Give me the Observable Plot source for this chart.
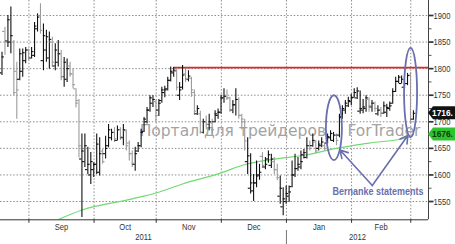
<!DOCTYPE html>
<html><head><meta charset="utf-8">
<script src="https://cdn.jsdelivr.net/npm/d3@7"></script>
<script src="https://cdn.jsdelivr.net/npm/@observablehq/plot@0.6"></script>
<style>html,body{margin:0;padding:0;background:#fff;overflow:hidden}</style>
</head><body><div id="chart"></div>
<script>
// ---- data ----
const dates = [
"2011-08-18","2011-08-19","2011-08-22","2011-08-23","2011-08-24","2011-08-25","2011-08-26","2011-08-29","2011-08-30","2011-08-31",
"2011-09-01","2011-09-02","2011-09-05","2011-09-06","2011-09-07","2011-09-08","2011-09-09","2011-09-12","2011-09-13","2011-09-14",
"2011-09-15","2011-09-16","2011-09-19","2011-09-20","2011-09-21","2011-09-22","2011-09-23","2011-09-26","2011-09-27","2011-09-28",
"2011-09-29","2011-09-30","2011-10-03","2011-10-04","2011-10-05","2011-10-06","2011-10-07","2011-10-10","2011-10-11","2011-10-12",
"2011-10-13","2011-10-14","2011-10-17","2011-10-18","2011-10-19","2011-10-20","2011-10-21","2011-10-24","2011-10-25","2011-10-26",
"2011-10-27","2011-10-28","2011-10-31","2011-11-01","2011-11-02","2011-11-03","2011-11-04","2011-11-07","2011-11-08","2011-11-09",
"2011-11-10","2011-11-11","2011-11-14","2011-11-15","2011-11-16","2011-11-17","2011-11-18","2011-11-21","2011-11-22","2011-11-23",
"2011-11-24","2011-11-25","2011-11-28","2011-11-29","2011-11-30","2011-12-01","2011-12-02","2011-12-05","2011-12-06","2011-12-07",
"2011-12-08","2011-12-09","2011-12-12","2011-12-13","2011-12-14","2011-12-15","2011-12-16","2011-12-19","2011-12-20","2011-12-21",
"2011-12-22","2011-12-23","2011-12-26","2011-12-27","2011-12-28","2011-12-29","2011-12-30","2012-01-02","2012-01-03","2012-01-04",
"2012-01-05","2012-01-06","2012-01-09","2012-01-10","2012-01-11","2012-01-12","2012-01-13","2012-01-16","2012-01-17","2012-01-18",
"2012-01-19","2012-01-20","2012-01-23","2012-01-24","2012-01-25","2012-01-26","2012-01-27","2012-01-30","2012-01-31","2012-02-01",
"2012-02-02","2012-02-03","2012-02-06","2012-02-07","2012-02-08","2012-02-09","2012-02-10","2012-02-13","2012-02-14","2012-02-15",
"2012-02-16","2012-02-17","2012-02-21","2012-02-22","2012-02-23","2012-02-24","2012-02-27","2012-02-28","2012-02-29","2012-03-01"];
const open = [
1792,1870,1852,1850,1850,1795,1780,1795,1815,1835, 1820,1825,1875,1900,1815,1835,1820,1850,1805,1812,
1828,1785,1780,1805,1790,1762,1740,1630,1625,1610, 1600,1610,1620,1605,1645,1640,1655,1670,1680,1665,
1685,1670,1683,1660,1640,1620,1645,1655,1682,1700, 1722,1735,1738,1722,1740,1755,1762,1778,1792,1795,
1750,1765,1790,1780,1782,1755,1715,1715,1680,1700, 1695,1698,1700,1712,1718,1745,1748,1745,1722,1732,
1742,1712,1700,1625,1575,1570,1585,1600,1635,1615, 1630,1618,1625,1610,1560,1540,1550,1560,1578,1600,
1612,1615,1638,1633,1655,1655,1662,1650,1655,1655, 1660,1670,1665,1675,1675,1708,1722,1730,1738,1746,
1745,1720,1722,1725,1742,1728,1735,1715,1722,1716, 1718,1725,1735,1757,1776,1772,1765,1772,1788,1705];
const high = [
1831,1878,1900,1916,1853,1812,1837,1837,1840,1837, 1840,1887,1903,1922,1884,1872,1869,1859,1847,1853,
1834,1821,1818,1812,1800,1762,1742,1677,1677,1652, 1642,1623,1677,1670,1648,1673,1695,1686,1689,1692,
1689,1695,1685,1664,1645,1652,1661,1686,1708,1727, 1749,1749,1740,1742,1765,1767,1784,1803,1802,1800,
1774,1806,1799,1796,1784,1760,1730,1720,1705,1711, 1714,1705,1721,1724,1750,1762,1760,1746,1740,1762,
1745,1714,1705,1670,1640,1601,1626,1620,1642,1633, 1645,1639,1633,1620,1598,1576,1579,1579,1626,1639,
1633,1645,1648,1670,1664,1677,1665,1664,1670,1660, 1677,1683,1680,1677,1714,1730,1740,1746,1752,1762,
1764,1758,1742,1749,1745,1740,1737,1730,1727,1737, 1733,1737,1762,1784,1787,1786,1777,1791,1793,1721];
const low = [
1787,1825,1840,1828,1749,1705,1777,1784,1809,1815, 1818,1821,1869,1865,1796,1812,1799,1803,1796,1803,
1777,1765,1774,1784,1762,1726,1632,1520,1614,1601, 1582,1595,1601,1598,1620,1630,1651,1664,1661,1664,
1665,1655,1645,1626,1614,1607,1642,1651,1680,1696, 1718,1727,1699,1710,1735,1745,1758,1775,1784,1758,
1740,1760,1774,1775,1746,1712,1712,1677,1677,1685, 1683,1677,1698,1705,1714,1735,1740,1718,1715,1711,
1705,1685,1645,1601,1564,1550,1576,1590,1612,1610, 1622,1612,1601,1589,1545,1523,1545,1548,1576,1595,
1607,1610,1630,1630,1645,1652,1640,1645,1651,1645, 1658,1664,1661,1655,1670,1705,1714,1727,1730,1745,
1742,1714,1715,1718,1718,1718,1718,1711,1708,1714, 1708,1720,1733,1755,1772,1771,1762,1768,1695,1703];
const close = [
1822,1850,1892,1862,1755,1760,1828,1830,1835,1820, 1832,1880,1897,1872,1862,1860,1855,1812,1835,1828,
1785,1812,1800,1790,1770,1735,1655,1645,1655,1620, 1625,1620,1658,1640,1625,1650,1685,1680,1668,1685,
1672,1685,1655,1640,1622,1640,1655,1680,1705,1722, 1745,1742,1712,1735,1760,1760,1778,1795,1797,1765,
1760,1788,1780,1786,1760,1720,1725,1680,1700,1695, 1700,1685,1715,1718,1745,1748,1745,1722,1732,1742,
1712,1705,1664,1636,1585,1585,1598,1605,1618,1620, 1638,1630,1610,1595,1575,1555,1565,1568,1600,1612,
1620,1625,1642,1655,1650,1665,1645,1658,1662,1650, 1672,1678,1675,1665,1710,1725,1735,1740,1745,1755,
1758,1725,1728,1745,1730,1735,1725,1722,1716,1730, 1727,1730,1757,1776,1784,1780,1772,1787,1700,1716];
// moving average read at a few bar positions (bar index, value)
const maIndex = [19, 27, 44, 52, 61, 73, 83, 90, 95, 103, 112, 124, 137, 139];
const maValue = [1516,1534,1555,1566,1583,1602,1621,1628,1632,1638,1649,1660,1670,1676];
const yTicks = [1550,1600,1650,1700,1750,1800,1850,1900];
const yMinorTicks = [1575,1625,1675,1725,1775,1825,1875];
const monthNames = ["Sep","Oct","Nov","Dec","Jan","Feb"];
const yearNames = ["2011","2012"];
const lastPrice = 1716;
const maLast = 1676;
const resistance = 1802;
const resistanceFromBar = 58;
const watermark = ["Портал для трейдеров", "ForTrader"];
const noteText = "Bernanke statements";

// ---- layout ----
const xDomain = [-0.507, 144.09];
const yDomain = [1515.6, 1928.2];
const sans = "'Liberation Sans', Arial, sans-serif";

const bars = dates.map((d, i) => ({i, date: d, open: open[i], high: high[i], low: low[i], close: close[i]}));
const ma = maIndex.map((i, k) => ({i, v: maValue[k]}));
const colorOf = d => d.close < d.open ? "#9b9b9b" : "#111";

const bounds = [];
for (let i = 1; i < dates.length; i++)
  if (dates[i].slice(0, 7) !== dates[i - 1].slice(0, 7)) bounds.push({pos: i - 0.9, ym: dates[i].slice(0, 7)});
const months = monthNames.map((name, k) => ({x: (bounds[k].pos + bounds[k + 1].pos) / 2, name}));
const janPos = bounds.find(b => b.ym.endsWith("-01")).pos;
const years = [
  {x: (xDomain[0] + janPos) / 2, name: yearNames[0]},
  {x: (janPos + xDomain[1]) / 2, name: yearNames[1]}
];

const annot = {
  wm1: {x: 46.5, y: 1681.7}, wm2: {x: 116.7, y: 1681.7},
  arrowFrom: {x: 125.1, y: 1580},
  arrowTo: [{x: 114.2, y: 1646.9}, {x: 137.1, y: 1674.2}],
  note: {x: 127, y: 1567.5},
  ellipses: [{x: 112.3, y: 1688, rx: 2.7, ry: 61}, {x: 138.2, y: 1754, rx: 2.2, ry: 84}]
};
const blue = "#6a6fae";

const plot = Plot.plot({
  width: 455, height: 244,
  marginLeft: 0, marginRight: 27, marginTop: 0, marginBottom: 24.7,
  x: {domain: xDomain, axis: null, label: null},
  y: {domain: yDomain, axis: null, label: null},
  color: {type: "identity"},
  style: {background: "#fff", fontFamily: sans, fontSize: "9.5px", color: "#222", overflow: "visible"},
  marks: [
    Plot.gridY(yTicks, {stroke: "#8c8c8c", strokeOpacity: 1, strokeDasharray: "1.5,1.8"}),
    Plot.gridX(bounds.map(b => b.pos), {stroke: "#8c8c8c", strokeOpacity: 1, strokeDasharray: "1.5,1.8"}),
    Plot.text([watermark[0]], {x: annot.wm1.x, y: annot.wm1.y, text: d => d, textAnchor: "start",
      fontFamily: "DejaVu Sans", fontSize: 15.5, fill: "#a3a3a3"}),
    Plot.text([watermark[1]], {x: annot.wm2.x, y: annot.wm2.y, text: d => d, textAnchor: "start",
      fontFamily: "DejaVu Sans", fontSize: 15.5, fill: "#a3a3a3"}),
    Plot.line(ma, {x: "i", y: "v", stroke: "#72da72", strokeWidth: 1.2, curve: "monotone-x", clip: true}),
    Plot.ruleY([resistance], {x1: resistanceFromBar, x2: xDomain[1], stroke: "#d62b2b", strokeWidth: 1.8}),
    Plot.ruleX(bars, {x: "i", y1: "low", y2: "high", stroke: colorOf, strokeWidth: 1.1}),
    Plot.ruleY(bars, {y: "open", x1: d => d.i - 0.8, x2: "i", stroke: colorOf, strokeWidth: 1.1}),
    Plot.ruleY(bars, {y: "close", x1: "i", x2: d => d.i + 0.8, stroke: colorOf, strokeWidth: 1.1}),
    Plot.ruleY([yDomain[0]], {stroke: "#333"}),
    Plot.ruleX([xDomain[1]], {stroke: "#444"}),
    Plot.axisY(yTicks, {anchor: "right", label: null, tickSize: 4.5, tickPadding: 0.5, strokeWidth: 1.7,
      stroke: "#333", fill: "#333", tickFormat: d => String(d)}),
    Plot.axisY(yMinorTicks, {anchor: "right", label: null, tickSize: 2.5, stroke: "#555", tickFormat: () => ""}),
    Plot.axisX(bounds.map(b => b.pos), {anchor: "bottom", label: null, tickSize: 3.5, stroke: "#333", tickFormat: () => ""}),
    Plot.text(months, {x: "x", text: "name", frameAnchor: "bottom", dy: 3, lineAnchor: "top", fill: "#333"}),
    Plot.text(years, {x: "x", text: "name", frameAnchor: "bottom", dy: 13, lineAnchor: "top", fill: "#333"}),
    Plot.ruleX([janPos], {insetTop: 230, insetBottom: -24.7, stroke: "#777"}),
    Plot.arrow(annot.arrowTo, {x1: annot.arrowFrom.x, y1: annot.arrowFrom.y, x2: "x", y2: "y",
      stroke: blue, strokeWidth: 1.6, headLength: 8, bend: 0}),
    Plot.text([noteText], {x: annot.note.x, y: annot.note.y, text: d => d, fontWeight: "bold",
      fontSize: 10, fill: blue})
  ]
});

const sx = plot.scale("x"), sy = plot.scale("y");
const svg = d3.select(plot);
for (const e of annot.ellipses) {
  const cx = sx.apply(e.x), cy = sy.apply(e.y);
  svg.append("ellipse").attr("cx", cx).attr("cy", cy)
    .attr("rx", sx.apply(e.x + e.rx) - cx).attr("ry", cy - sy.apply(e.y + e.ry))
    .attr("fill", "none").attr("stroke", blue).attr("stroke-width", 1.8);
}
const axisX = sx.apply(xDomain[1]);
const tagTexts = [];
function priceTag(v, bg, fg) {
  const y = sy.apply(v);
  svg.append("polygon")
    .attr("points", [[axisX, y], [axisX + 5, y - 6.5], [455, y - 6.5], [455, y + 6.5], [axisX + 5, y + 6.5]].map(p => p.join(",")).join(" "))
    .attr("fill", bg);
  const t = svg.append("text").attr("x", axisX + 4).attr("y", y - 0.5).attr("dy", "0.35em")
    .attr("fill", fg).attr("font-size", 9.5).attr("font-weight", "bold").attr("font-family", sans)
    .attr("text-anchor", "start")
    .text(v + ".");
  tagTexts.push(t.node());
}
priceTag(lastPrice, "#111", "#fff");
priceTag(maLast, "#2fc42f", "#0b3a0b");

document.getElementById("chart").appendChild(plot);

// narrow the Arial-metric labels to the condensed look of the original
const narrowSet = new Set([...yTicks.map(String), ...monthNames, ...yearNames]);
function squeeze(el, f, target) {
  const w = el.getComputedTextLength();
  if (w > 0) {
    el.setAttribute("textLength", target || w * f);
    el.setAttribute("lengthAdjust", "spacingAndGlyphs");
  }
}
plot.querySelectorAll("text").forEach(el => {
  const s = el.textContent;
  if (narrowSet.has(s)) squeeze(el, 0.8);
  else if (s === noteText) squeeze(el, 1, 91);
});
tagTexts.forEach(el => squeeze(el, 0.88));
</script>
</body></html>
